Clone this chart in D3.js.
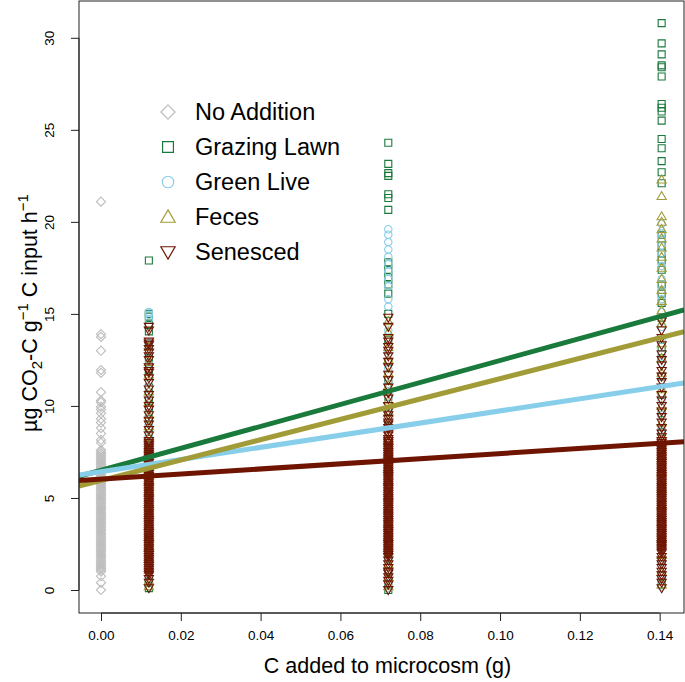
<!DOCTYPE html>
<html>
<head>
<meta charset="utf-8">
<script src="https://cdn.jsdelivr.net/npm/d3@7"></script>
<style>
  html, body { margin: 0; padding: 0; background: #ffffff; }
  svg { display: block; }
  text { font-family: "Liberation Sans", Arial, Helvetica, sans-serif; fill: #000; }
</style>
</head>
<body>
<svg id="chart" width="685" height="682"></svg>
<script>
// ---------------- data ----------------
const categories = ["No Addition", "Grazing Lawn", "Green Live", "Feces", "Senesced"];
const xLevels = [0, 0.012, 0.072, 0.1405];

const xTicks = [0, 0.02, 0.04, 0.06, 0.08, 0.10, 0.12, 0.14];
const yTicks = [0, 5, 10, 15, 20, 25, 30];

// regression lines: intercept, slope
const lineIntercepts = [6.50, 6.43, 5.95, 6.02];   // Grazing Lawn, Green Live, Feces, Senesced
const lineSlopes     = [59.7, 33.0, 55.3, 13.9];
const lineSeries     = ["Grazing Lawn", "Green Live", "Feces", "Senesced"];

// No Addition (x = 0)
const noAddition0 = [21.1, 13.9, 13.75, 13.0, 11.95, 11.8, 10.75, 10.3, 10.2, 9.95, 9.8, 9.6, 9.3, 9.1, 8.8, 8.5, 8.15, 8.0,
  7.6, 7.5, 7.4, 7.3, 7.2, 7.1, 7.0, 6.9, 6.8, 6.7, 6.6, 6.5, 6.4, 6.3, 6.2, 6.1, 6.0, 5.9, 5.8, 5.7, 5.6, 5.5, 5.4, 5.3,
  5.2, 5.1, 5.0, 4.9, 4.8, 4.7, 4.6, 4.5, 4.4, 4.3, 4.2, 4.1, 4.0, 3.9, 3.8, 3.7, 3.6, 3.5, 3.4, 3.3, 3.2, 3.1, 3.0, 2.9,
  2.8, 2.7, 2.6, 2.5, 2.4, 2.3, 2.2, 2.1, 2.0, 1.9, 1.8, 1.7, 1.6, 1.5, 1.4, 1.3, 1.2, 1.1, 1.0, 0.75, 0.4, 0.0];

// x = 0.012
const grazing012 = [17.9, 15.0, 14.85, 14.4, 14.05, 13.3, 12.6, 12.0, 11.6, 11.0, 10.4, 9.9, 9.3, 8.8, 8.2, 7.6, 7.1, 6.5,
  5.9, 5.3, 4.8, 4.2, 3.6, 3.0, 2.4, 1.8, 1.2, 0.6, 0.4, 0.1];
const green012 = [15.1, 14.95, 14.7, 13.4, 12.9, 12.3, 11.0, 10.6, 9.6, 9.0, 8.4, 7.8, 7.2, 6.6, 6.0, 5.4, 4.8, 4.2, 3.6,
  3.0, 2.4, 1.8, 1.2, 0.8, 0.5, 0.2];
const feces012 = [13.2, 12.4, 11.7, 10.8, 10.2, 9.5, 8.9, 8.3, 7.7, 7.1, 6.5, 5.9, 5.3, 4.7, 4.1, 3.5, 2.9, 2.3, 1.7, 1.1,
  0.5, 0.2];
const senesced012 = [14.3, 14.1, 13.5, 13.4, 13.3, 13.1, 12.9, 12.7, 12.5, 12.1, 11.9, 11.8, 11.5, 11.25, 10.9, 10.6, 10.3,
  10.0, 9.8, 9.5, 9.2, 9.0, 8.7, 8.4, 8.1, 8.0, 7.9, 7.8, 7.7, 7.6, 7.5, 7.4, 7.3, 7.2, 7.1, 7.0, 6.9, 6.8, 6.7, 6.6, 6.5,
  6.4, 6.3, 6.2, 6.1, 6.0, 5.9, 5.8, 5.7, 5.6, 5.5, 5.4, 5.3, 5.2, 5.1, 5.0, 4.9, 4.8, 4.7, 4.6, 4.5, 4.4, 4.3, 4.2, 4.1,
  4.0, 3.9, 3.8, 3.7, 3.6, 3.5, 3.4, 3.3, 3.2, 3.1, 3.0, 2.9, 2.8, 2.7, 2.6, 2.5, 2.4, 2.3, 2.2, 2.1, 2.0, 1.9, 1.8, 1.7,
  1.6, 1.5, 1.4, 1.3, 1.2, 1.1, 1.0, 0.9, 0.8, 0.6, 0.4, 0.1];

// x = 0.072
const grazing072 = [24.3, 23.15, 22.65, 22.5, 21.5, 21.3, 20.65, 17.8, 17.4, 17.0, 16.6, 16.1, 15.0, 13.6, 12.4, 11.4, 10.5,
  9.7, 8.9, 8.1, 7.3, 6.5, 5.7, 4.9, 4.1, 3.3, 2.5, 1.7, 1.0, 0.3, 0.0];
const green072 = [19.6, 19.3, 18.9, 18.5, 18.1, 17.7, 17.3, 16.9, 16.5, 15.8, 15.4, 14.1, 13.0, 12.0, 11.2, 10.5, 9.6, 8.8,
  8.0, 7.2, 6.4, 5.6, 4.8, 4.0, 3.2, 2.4, 1.6, 1.0, 0.4, 0.1];
const feces072 = [14.6, 14.0, 13.2, 12.5, 11.8, 11.1, 10.3, 9.6, 8.9, 8.1, 7.4, 6.6, 5.9, 5.1, 4.4, 3.6, 2.9, 2.1, 1.4, 0.7,
  0.2];
const senesced072 = [14.8, 14.3, 13.7, 13.5, 13.2, 13.0, 12.7, 12.4, 12.1, 11.7, 11.4, 11.0, 10.7, 10.4, 10.0, 9.7, 9.5,
  9.3, 9.1, 9.0, 8.8, 8.7, 8.5, 8.4, 8.2, 8.1, 8.0, 7.9, 7.8, 7.7, 7.6, 7.5, 7.4, 7.3, 7.2, 7.1, 7.0, 6.9, 6.8, 6.7, 6.6,
  6.5, 6.4, 6.3, 6.2, 6.1, 6.0, 5.9, 5.8, 5.7, 5.6, 5.5, 5.4, 5.3, 5.2, 5.1, 5.0, 4.9, 4.8, 4.7, 4.6, 4.5, 4.4, 4.3, 4.2,
  4.1, 4.0, 3.9, 3.8, 3.7, 3.6, 3.5, 3.4, 3.3, 3.2, 3.1, 3.0, 2.9, 2.8, 2.7, 2.6, 2.5, 2.4, 2.3, 2.2, 2.1, 2.0, 1.9, 1.8,
  1.6, 1.4, 1.2, 1.0, 0.9, 0.7, 0.5, 0.3, 0.0];

// x = 0.1405
const grazing140 = [30.8, 29.7, 29.1, 28.5, 28.4, 27.9, 26.4, 26.2, 26.0, 25.5, 24.5, 24.0, 23.3, 22.7, 22.1, 19.3, 18.7,
  18.3, 17.9, 17.4, 16.6, 16.1, 15.6, 14.8, 13.2, 12.6, 11.6, 10.6, 9.6, 8.6, 7.6, 6.6, 5.6, 4.6, 3.6, 2.6, 1.6, 0.8, 0.3];
const green140 = [19.9, 19.4, 19.1, 18.7, 18.3, 17.6, 16.9, 16.3, 15.8, 15.1, 14.3, 13.6, 12.8, 12.3, 11.6, 11.0, 10.3, 9.5,
  8.7, 7.9, 7.1, 6.3, 5.5, 4.7, 3.9, 3.1, 2.3, 1.5, 0.8, 0.2];
const feces140 = [22.3, 21.4, 20.3, 20.0, 19.6, 19.1, 18.6, 18.1, 17.5, 16.9, 16.3, 15.7, 15.2, 14.5, 13.4, 12.6, 11.8, 10.9,
  10.0, 9.1, 8.2, 7.3, 6.4, 5.5, 4.6, 3.7, 2.8, 1.9, 1.0, 0.3];
const senesced140 = [14.6, 14.1, 13.7, 13.3, 12.8, 12.5, 12.2, 11.9, 11.6, 11.3, 11.0, 10.6, 10.3, 10.0, 9.7, 9.4, 9.1, 8.8,
  8.5, 8.3, 8.1, 8.0, 7.9, 7.8, 7.7, 7.6, 7.5, 7.4, 7.3, 7.2, 7.1, 7.0, 6.9, 6.8, 6.7, 6.6, 6.5, 6.4, 6.3, 6.2, 6.1, 6.0,
  5.9, 5.8, 5.7, 5.6, 5.5, 5.4, 5.3, 5.2, 5.1, 5.0, 4.9, 4.8, 4.7, 4.6, 4.5, 4.4, 4.3, 4.2, 4.1, 4.0, 3.9, 3.8, 3.7, 3.6,
  3.5, 3.4, 3.3, 3.2, 3.1, 3.0, 2.9, 2.8, 2.7, 2.6, 2.5, 2.4, 2.3, 2.2, 2.1, 2.0, 1.8, 1.6, 1.4, 1.2, 1.0, 0.8, 0.6, 0.4,
  0.1];

// ---------------- style ----------------
const colors = {
  "No Addition": "#bdbdbd",
  "Grazing Lawn": "#1a7a3c",
  "Green Live": "#87ceeb",
  "Feces": "#a29c38",
  "Senesced": "#6e1400"
};
const shapes = {
  "No Addition": "diamond",
  "Grazing Lawn": "square",
  "Green Live": "circle",
  "Feces": "up",
  "Senesced": "down"
};

// groups in drawing order (series × x level)
const groups = [
  { s: "No Addition", x: xLevels[0], v: noAddition0 },
  { s: "Grazing Lawn", x: xLevels[1], v: grazing012 },
  { s: "Grazing Lawn", x: xLevels[2], v: grazing072 },
  { s: "Grazing Lawn", x: xLevels[3], v: grazing140 },
  { s: "Green Live", x: xLevels[1], v: green012 },
  { s: "Green Live", x: xLevels[2], v: green072 },
  { s: "Green Live", x: xLevels[3], v: green140 },
  { s: "Feces", x: xLevels[1], v: feces012 },
  { s: "Feces", x: xLevels[2], v: feces072 },
  { s: "Feces", x: xLevels[3], v: feces140 },
  { s: "Senesced", x: xLevels[1], v: senesced012 },
  { s: "Senesced", x: xLevels[2], v: senesced072 },
  { s: "Senesced", x: xLevels[3], v: senesced140 }
];

// ---------------- layout ----------------
const plot = { left: 79, right: 684, top: 1, bottom: 613 };
const x = d3.scaleLinear().domain([-0.00551, 0.1461]).range([plot.left, plot.right]);
const y = d3.scaleLinear().domain([-1.25, 32.0]).range([plot.bottom, plot.top]);

const svg = d3.select("#chart");

svg.append("defs").append("clipPath").attr("id", "clip")
  .append("rect").attr("x", plot.left).attr("y", plot.top)
  .attr("width", plot.right - plot.left).attr("height", plot.bottom - plot.top);

function symbolPath(shape, s) {
  switch (shape) {
    case "diamond": { const r = 4.6 * s; return `M0,${-r}L${r},0L0,${r}L${-r},0Z`; }
    case "square": { const h = 3.5 * s; return `M${-h},${-h}H${h}V${h}H${-h}Z`; }
    case "circle": { const r = 3.7 * s; return `M${r},0A${r},${r} 0 1,1 ${-r},0A${r},${r} 0 1,1 ${r},0Z`; }
    case "up": { const w = 4.6 * s, h = 4.0 * s; return `M0,${-h - 0.6 * s}L${w},${h - 0.6 * s}L${-w},${h - 0.6 * s}Z`; }
    case "down": { const w = 4.6 * s, h = 4.0 * s; return `M0,${h + 0.6 * s}L${w},${-h + 0.6 * s}L${-w},${-h + 0.6 * s}Z`; }
  }
}

// points
const pts = svg.append("g").attr("clip-path", "url(#clip)");
groups.forEach(g => {
  pts.append("g").selectAll("path").data(g.v).join("path")
    .attr("d", symbolPath(shapes[g.s], 1))
    .attr("transform", d => `translate(${x(g.x)},${y(d)})`)
    .attr("fill", "none")
    .attr("stroke", colors[g.s])
    .attr("stroke-width", 1.1);
});

// regression lines
const lines = svg.append("g").attr("clip-path", "url(#clip)");
[0, 1, 2, 3].forEach(i => {
  const [x0, x1] = x.domain();
  lines.append("line")
    .attr("x1", x(x0)).attr("y1", y(lineIntercepts[i] + lineSlopes[i] * x0))
    .attr("x2", x(x1)).attr("y2", y(lineIntercepts[i] + lineSlopes[i] * x1))
    .attr("stroke", colors[lineSeries[i]])
    .attr("stroke-width", 5);
});

// frame
svg.append("rect")
  .attr("x", plot.left).attr("y", plot.top)
  .attr("width", plot.right - plot.left).attr("height", plot.bottom - plot.top)
  .attr("fill", "none").attr("stroke", "#222").attr("stroke-width", 1);

// x axis
const xAxis = d3.axisBottom(x).tickValues(xTicks).tickFormat(d3.format(".2f")).tickSize(8).tickPadding(9);
const gx = svg.append("g").attr("transform", `translate(0,${plot.bottom})`).call(xAxis);
gx.select(".domain").attr("d", `M${x(xTicks[0])},0H${x(xTicks[xTicks.length - 1])}`).attr("stroke", "#222");
gx.selectAll(".tick line").attr("stroke", "#222");
gx.selectAll(".tick text").attr("font-size", 13.5).attr("font-family", "Liberation Sans, Arial, sans-serif").attr("fill", "#000");

// y axis
const yAxis = d3.axisLeft(y).tickValues(yTicks).tickSize(8).tickPadding(0);
const gy = svg.append("g").attr("transform", `translate(${plot.left},0)`).call(yAxis);
gy.select(".domain").attr("d", `M0,${y(yTicks[0])}V${y(yTicks[yTicks.length - 1])}`).attr("stroke", "#222");
gy.selectAll(".tick line").attr("stroke", "#222");
gy.selectAll(".tick text")
  .attr("font-size", 13.5).attr("font-family", "Liberation Sans, Arial, sans-serif").attr("fill", "#000")
  .attr("x", null)
  .attr("text-anchor", "middle")
  .attr("transform", "translate(-30,0) rotate(-90)")
  .attr("dy", "0.35em");

// axis titles
svg.append("text")
  .attr("x", (plot.left + plot.right) / 2 + 6).attr("y", 673)
  .attr("text-anchor", "middle").attr("font-size", 21.5)
  .text("C added to microcosm (g)");

const yt = svg.append("text")
  .attr("transform", `translate(37,${(plot.top + plot.bottom) / 2 + 6}) rotate(-90)`)
  .attr("text-anchor", "middle").attr("font-size", 21.5);
yt.append("tspan").text("µg CO");
yt.append("tspan").attr("font-size", 15).attr("dy", 5).text("2");
yt.append("tspan").attr("dy", -5).text("-C g");
yt.append("tspan").attr("font-size", 15).attr("dy", -9).text("−1");
yt.append("tspan").attr("dy", 9).text(" C input h");
yt.append("tspan").attr("font-size", 15).attr("dy", -9).text("−1");

// legend
const legend = svg.append("g");
const legendRowY = d3.scalePoint().domain(categories).range([112, 252]);
categories.forEach(c => {
  const ly = legendRowY(c);
  legend.append("path")
    .attr("d", symbolPath(shapes[c], 1.55))
    .attr("transform", `translate(168,${ly})`)
    .attr("fill", "none").attr("stroke", colors[c]).attr("stroke-width", 1.2);
  legend.append("text")
    .attr("x", 195).attr("y", ly).attr("dy", "0.36em")
    .attr("font-size", 23.5).text(c);
});
</script>
</body>
</html>
